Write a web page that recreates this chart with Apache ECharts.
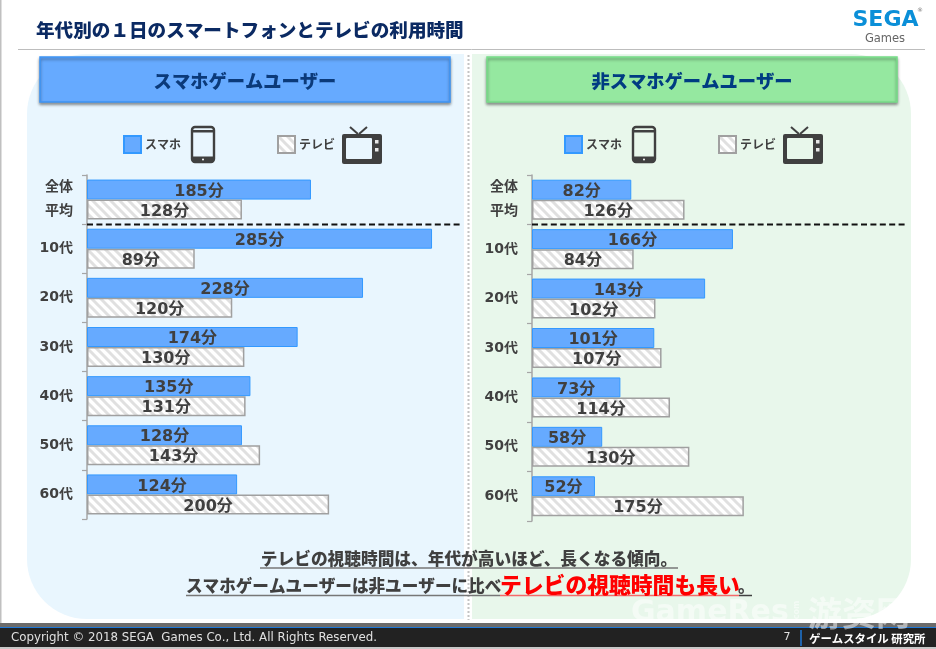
<!DOCTYPE html>
<html>
<head>
<meta charset="utf-8">
<title>年代別の1日のスマートフォンとテレビの利用時間</title>
<script src="https://cdn.jsdelivr.net/npm/echarts@6/dist/echarts.min.js"></script>
<style>
html, body { margin: 0; padding: 0; background: #fff; overflow: hidden; }
#main { width: 936px; height: 649px; }
</style>
</head>
<body>
<div id="main"></div>
<script>
// values (minutes per day)
var categories = ['全体\n平均', '10代', '20代', '30代', '40代', '50代', '60代'];
var gamerPhone = [185, 285, 228, 174, 135, 128, 124];
var gamerTv = [128, 89, 120, 130, 131, 143, 200];
var nonGamerPhone = [82, 166, 143, 101, 73, 58, 52];
var nonGamerTv = [126, 84, 102, 107, 114, 130, 175];
var phoneName = 'スマホ';
var tvName = 'テレビ';

var jpFont = '"Noto Sans CJK JP", sans-serif';
var numFont = '"DejaVu Sans", "Noto Sans CJK JP", sans-serif';
var darkText = '#404040';

// hatch tile for the TV bars
function hatch() {
    var s = 9;
    var c = document.createElement('canvas');
    c.width = s;
    c.height = s;
    var g = c.getContext('2d');
    g.fillStyle = '#ffffff';
    g.fillRect(0, 0, s, s);
    g.strokeStyle = '#e0e0e0';
    g.lineWidth = 3;
    for (var i = -s; i <= s; i += s) {
        g.beginPath();
        g.moveTo(i - 2, -2);
        g.lineTo(i + s + 2, s + 2);
        g.stroke();
    }
    return c;
}
var tvPattern = { image: hatch(), repeat: 'repeat' };

function barLabel() {
    return {
        show: true,
        position: 'inside',
        offset: [0, 2],
        formatter: '{c}分',
        fontFamily: numFont,
        fontWeight: 'bold',
        fontSize: 16,
        color: darkText
    };
}

function makeSeries(name, data, idx) {
    var isPhone = name === phoneName;
    return {
        name: name,
        type: 'bar',
        xAxisIndex: idx,
        yAxisIndex: idx,
        data: data,
        barWidth: 20,
        barGap: 0,
        label: barLabel(),
        silent: true,
        itemStyle: isPhone
            ? { color: '#66AAFF', borderColor: '#3399FF', borderWidth: 1 }
            : { color: tvPattern, borderColor: '#A0A0A0', borderWidth: 1.5 }
    };
}

function makeGrid(left, height) {
    return { left: left, top: 175, width: 375.3, height: height };
}

function makeX(idx) {
    return { type: 'value', gridIndex: idx, min: 0, max: 310, show: false };
}

function makeY(idx) {
    return {
        type: 'category',
        gridIndex: idx,
        inverse: true,
        data: categories,
        axisLine: { show: true, lineStyle: { color: '#A6A6A6', width: 1.5 } },
        axisTick: { show: true, alignWithLabel: false, interval: 0, length: 5, lineStyle: { color: '#A6A6A6', width: 1.2 } },
        axisLabel: {
            margin: 14,
            interval: 0,
            color: darkText,
            fontFamily: numFont,
            fontWeight: 'bold',
            fontSize: 14,
            lineHeight: 24
        }
    };
}

function makeLegend(left) {
    return {
        left: left,
        top: 135,
        padding: 0,
        icon: 'rect',
        itemWidth: 17,
        itemHeight: 17,
        itemGap: 96,
        selectedMode: false,
        data: [phoneName, tvName],
        textStyle: { color: darkText, fontFamily: jpFont, fontWeight: 'bold', fontSize: 12, padding: [0, 0, 0, -1] }
    };
}

function box(x, y, w, h, fill, r, extra) {
    var o = { type: 'rect', shape: { x: x, y: y, width: w, height: h, r: r || 0 }, style: { fill: fill }, z: -1, silent: true };
    for (var k in extra) { o[k] = extra[k]; }
    return o;
}

function label(x, y, text, style, z) {
    var s = { x: x, y: y, text: text, textVerticalAlign: 'middle', verticalAlign: 'middle', fontFamily: jpFont };
    for (var k in style) { s[k] = style[k]; }
    return { type: 'text', style: s, z: z || 10, silent: true };
}

function rule(x1, y1, x2, y2, stroke, width, dash, z) {
    return {
        type: 'line',
        shape: { x1: x1, y1: y1, x2: x2, y2: y2 },
        style: { stroke: stroke, lineWidth: width, lineDash: dash || null },
        z: z || 1,
        silent: true
    };
}

function header(x, fill, border, text, color) {
    return [
        {
            type: 'rect',
            shape: { x: x, y: 57, width: 410, height: 45 },
            style: { fill: fill, stroke: border, lineWidth: 1.5, shadowBlur: 3, shadowOffsetY: 2, shadowColor: 'rgba(0,0,0,0.4)' },
            z: 0,
            silent: true
        },
        label(x + 205, 81, text, { fontSize: 18.3, fontWeight: 900, fill: color, align: 'center' })
    ];
}

// phone and television pictograms next to a legend
function icons(dx, screen) {
    var ink = '#404040';
    return [
        { type: 'rect', shape: { x: 192 + dx, y: 127, width: 22, height: 35, r: 3 }, style: { fill: 'none', stroke: ink, lineWidth: 2.4 }, z: 3, silent: true },
        box(192 + dx, 130, 22, 2.5, ink, 0, { z: 3 }),
        box(192 + dx, 156.5, 22, 5, ink, 0, { z: 3 }),
        { type: 'circle', shape: { cx: 203 + dx, cy: 159.5, r: 1 }, style: { fill: '#fff' }, z: 4, silent: true },
        box(342 + dx, 134, 40, 30, ink, 2, { z: 3 }),
        box(346 + dx, 138, 26, 21, screen, 1, { z: 4 }),
        box(375 + dx, 140, 3.5, 3.5, '#e8e8e8', 0, { z: 4 }),
        box(375 + dx, 148, 3.5, 3.5, '#e8e8e8', 0, { z: 4 }),
        rule(350 + dx, 127, 358 + dx, 134, ink, 2, null, 3),
        rule(367 + dx, 127, 359 + dx, 134, ink, 2, null, 3)
    ];
}

var comMark = label(0, 0, 'com', { fontFamily: '"DejaVu Sans", sans-serif', fontSize: 8, fontWeight: 'bold', fill: 'rgba(255,255,255,0.5)', align: 'center' }, 20);
comMark.x = 797;
comMark.y = 610;
comMark.rotation = Math.PI / 2;

var graphics = [
    // page frame and panels
    box(0, 0, 1.5, 623, '#c0c0c0'),
    box(27, 54, 437, 565, '#E9F6FE', [60, 0, 0, 60]),
    box(472, 54, 439, 565, '#E8F7EB', [0, 60, 60, 0]),
    rule(18, 49.5, 925, 49.5, '#bdbdbd', 1),
    rule(468.5, 55, 468.5, 620, '#c4c4c4', 2, [2, 2]),
    label(36, 30, '年代別の１日のスマートフォンとテレビの利用時間', { fontSize: 18.6, fontWeight: 900, fill: '#0B2A63' }),
    // logo
    label(885.5, 20, 'SEGA', { fontFamily: '"DejaVu Sans", sans-serif', fontSize: 22, fontWeight: 'bold', fill: '#0B8FD8', align: 'center' }),
    label(917, 10, '®', { fontFamily: '"DejaVu Sans", sans-serif', fontSize: 6, fill: '#777' }),
    label(885, 39, 'Games', { fontFamily: '"DejaVu Sans", sans-serif', fontSize: 11.5, fill: '#666', align: 'center' }),
    // dashed separator under the overall average
    rule(87, 224.5, 462, 224.5, '#111', 2, [6, 3.4], 5),
    rule(532, 224.5, 907, 224.5, '#111', 2, [6, 3.4], 5),
    // conclusion
    label(469, 559, 'テレビの視聴時間は、年代が高いほど、長くなる傾向。', { fontSize: 16.7, fontWeight: 900, fill: darkText, align: 'center' }),
    rule(260, 568, 678, 568, '#777', 1.5),
    label(186, 586, 'スマホゲームユーザーは非ユーザーに比べ', { fontSize: 16.6, fontWeight: 900, fill: darkText }),
    label(500, 585, 'テレビの視聴時間も長い', { fontSize: 21.8, fontWeight: 900, fill: '#FF0000' }),
    label(738, 586, '。', { fontSize: 16.6, fontWeight: 900, fill: darkText }),
    rule(186, 595.5, 500, 595.5, '#777', 1.5),
    rule(500, 595.5, 739, 595.5, '#F46A6A', 1.5),
    rule(739, 595.5, 752, 595.5, '#404040', 1.5),
    // footer
    box(0, 623, 936, 4, '#6b6b6b', 0, { z: 6 }),
    box(0, 627, 936, 1.2, '#1E78D8', 0, { z: 6 }),
    box(0, 628, 936, 19, '#222222', 0, { z: 6 }),
    box(0, 647, 936, 2, '#c8c8c8', 0, { z: 6 }),
    label(11, 638, 'Copyright © 2018 SEGA  Games Co., Ltd. All Rights Reserved.', { fontFamily: '"DejaVu Sans", sans-serif', fontSize: 11.8, fill: '#e0e0e0' }),
    label(787, 637, '7', { fontFamily: '"DejaVu Sans", sans-serif', fontSize: 11, fill: '#e0e0e0', align: 'center' }),
    rule(801, 630, 801, 646, '#1E78D8', 1.5, null, 10),
    label(809, 639, 'ゲームスタイル 研究所', { fontSize: 11.4, fontWeight: 'bold', fill: '#fff' }),
    // site watermark
    label(631, 613, 'GameRes', { fontFamily: '"DejaVu Sans", sans-serif', fontSize: 30, fontWeight: 'bold', fill: 'rgba(255,255,255,0.5)' }, 20),
    comMark,
    label(808, 613, '游资网', { fontFamily: '"Noto Sans CJK SC", sans-serif', fontSize: 34, fontWeight: 'bold', fill: 'rgba(255,255,255,0.5)' }, 20)
];
graphics = graphics
    .concat(header(40, '#66AAFF', '#3D94F5', 'スマホゲームユーザー', '#0B3A7A'))
    .concat(header(487, '#95E8A0', '#77DD88', '非スマホゲームユーザー', '#003C82'))
    .concat(icons(0, '#E9F6FE'))
    .concat(icons(441, '#E8F7EB'));

var myChart = echarts.init(document.getElementById('main'));

var option = {
    animation: false,
    backgroundColor: '#ffffff',
    color: ['#66AAFF', '#d4d4d4'],
    legend: [makeLegend(123), makeLegend(564)],
    grid: [makeGrid(87, 344), makeGrid(532, 346)],
    xAxis: [makeX(0), makeX(1)],
    yAxis: [makeY(0), makeY(1)],
    series: [
        makeSeries(phoneName, gamerPhone, 0),
        makeSeries(tvName, gamerTv, 0),
        makeSeries(phoneName, nonGamerPhone, 1),
        makeSeries(tvName, nonGamerTv, 1)
    ],
    graphic: { elements: graphics }
};
myChart.setOption(option);
</script>
</body>
</html>
